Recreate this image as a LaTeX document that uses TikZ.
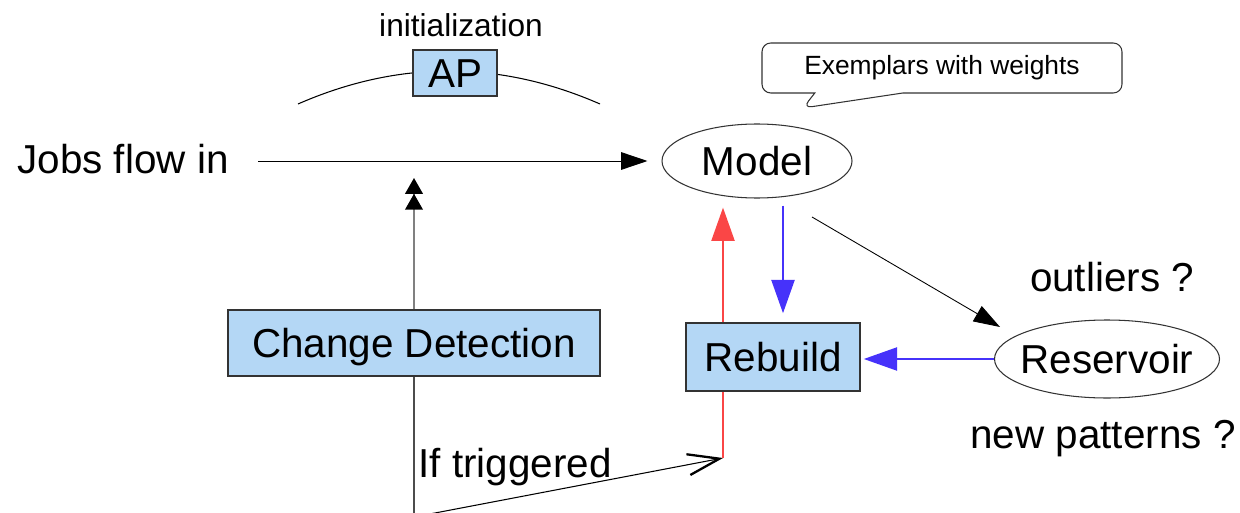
\documentclass[tikz,border=0pt]{standalone}
\usepackage{fontspec}
\setmainfont{Liberation Sans}
\usetikzlibrary{arrows.meta,shapes.geometric,shapes.callouts}
\definecolor{boxblue}{RGB}{180,215,245}
\definecolor{rebred}{RGB}{250,70,70}
\definecolor{rebblue}{RGB}{70,50,250}
\begin{document}
\begin{tikzpicture}[
  boite/.style={draw=black!80, fill=boxblue, line width=0.8pt, inner sep=0, text height=0.58cm, text depth=0pt, font=\fontsize{23}{27}\selectfont},
  ovale/.style={draw=black!80, ellipse, line width=0.6pt, inner sep=0, text height=0.58cm, text depth=0pt, font=\fontsize{23}{27}\selectfont},
  texte/.style={inner sep=0, text height=0.58cm, text depth=0pt, font=\fontsize{23}{27}\selectfont},
  fleche/.style={-{Triangle[length=15pt,width=10pt]}, line width=0.5pt},
  grosse/.style={-{Triangle[length=19pt,width=13pt]}, line width=1.6pt}]
\useasboundingbox (0,0) rectangle (24.8,10.24);
% Initialisation
\draw[line width=0.6pt] (5.96,8.16) .. controls (7.97,9.04) and (9.99,9.04) .. (12.0,8.16);
\node[boite, minimum width=1.68cm, minimum height=0.92cm] (ap) at (9.10,8.78) {AP};
\node[inner sep=0, font=\fontsize{18}{22}\selectfont] (init) at (9.22,9.74) {initialization};
% Flux des jobs
\node[texte] (jobs) at (2.46,7.06) {Jobs flow in};
\coordinate (jobin) at (5.16,7.02);
\node[ovale, minimum width=3.8cm, minimum height=1.48cm] (model) at (15.14,7.02) {Model};
\draw[fleche, shorten >=0.28cm] (jobin) -- (model.west);
% Bulle
\node[rectangle callout, draw=black!80, line width=0.6pt, rounded corners=5pt,
  minimum width=7.2cm, minimum height=1cm, callout absolute pointer={(16.06,8.08)},
  callout pointer width=1.76cm, font=\fontsize{15}{18}\selectfont] (poids) at (18.84,8.88) {Exemplars with weights};
% Detection
\node[boite, minimum width=7.44cm, minimum height=1.32cm] (cd) at (8.28,3.38) {Change Detection};
\coordinate (cdtip) at (8.28,6.68);
\draw[gray, line width=1pt, -{Triangle[length=9pt,width=10pt,color=black] Triangle[length=9pt,width=10pt,color=black]}] (cd.north) -- (cdtip);
\coordinate (src) at (8.28,-0.1);
\draw[black!70, line width=0.8pt] (src) -- (cd.south);
\coordinate (trig) at (14.46,1.08);
\draw[line width=0.6pt, -{Straight Barb[length=18pt,width=12pt,line width=1.3pt]}] (src) -- (trig);
\node[texte, anchor=west] (si) at (8.36,0.98) {If triggered};
% Reconstruction
\node[boite, minimum width=3.48cm, minimum height=1.36cm] (rb) at (15.46,3.10) {Rebuild};
\draw[rebred, line width=1.6pt] (trig) -- (trig |- rb.south);
\draw[rebred, grosse, shorten >=0.18cm] (trig |- rb.north) -- (trig |- model.south);
\draw[rebblue, grosse, shorten <=0.14cm, shorten >=0.18cm] ([xshift=0.52cm]model.south) -- ([xshift=0.2cm]rb.north);
% Reservoir
\node[ovale, inner xsep=-0.15cm, minimum width=4.5cm, minimum height=1.56cm] (res) at (22.14,3.06) {Reservoir};
\draw[fleche] ([shift={(1.1,-1.12)}]model.center) -- ([shift={(-2.14,0.64)}]res.center);
\draw[rebblue, grosse, shorten >=0.06cm] (res.west) -- (res.west -| rb.east);
\node[texte] (outl) at (22.24,4.70) {outliers ?};
\node[texte] (newp) at (22.06,1.56) {new patterns ?};
\end{tikzpicture}
\end{document}
